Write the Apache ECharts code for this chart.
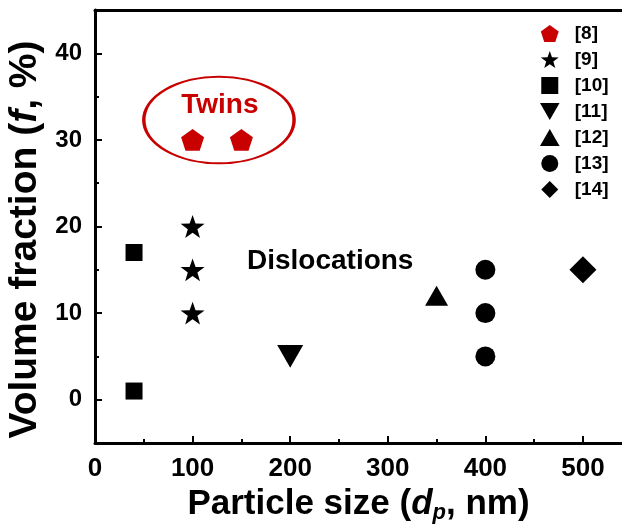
<!DOCTYPE html>
<html>
<head>
<meta charset="utf-8">
<script src="https://cdn.jsdelivr.net/npm/echarts@6/dist/echarts.min.js"></script>
<style>
  html, body { margin: 0; padding: 0; background: #fff; }
  #chart { width: 622px; height: 526px; }
</style>
</head>
<body>
<div id="chart"></div>
<script>
// data points [particle size nm, volume fraction %]
const ref8 = [[100, 30], [150, 30]]
const ref9 = [[100, 20], [100, 15], [100, 10]]
const ref10 = [[40, 17], [40, 1]]
const ref11 = [[200, 5]]
const ref12 = [[350, 12]]
const ref13 = [[400, 15], [400, 10], [400, 5]]
const ref14 = [[500, 15]]

const xMinorTicks = [50, 150, 250, 350, 450]
const yTicks = [0, 10, 20, 30, 40]

const FONT = '"Liberation Sans", Arial, sans-serif'
const RED = '#c80000'

// symbols
const PENTAGON = 'path://M50 0L97.6 34.5L79.4 90.5L20.6 90.5L2.4 34.5Z'
const STAR = 'path://M50 0L61.8 33.8L97.6 34.5L69 56.2L79.4 90.5L50 70L20.6 90.5L31 56.2L2.4 34.5L38.2 33.8Z'
const SQUARE = 'path://M0 0H100V100H0Z'
const TRI_DOWN = 'path://M0 0L100 0L50 87Z'
const TRI_UP = 'path://M50 0L100 87L0 87Z'
const DIAMOND = 'path://M50 0L100 50L50 100L0 50Z'

const chart = echarts.init(document.getElementById('chart'))

function sc(name, data, symbol, size, color) {
  return {
    name: name,
    type: 'scatter',
    data: data,
    symbol: symbol,
    symbolSize: size,
    symbolKeepAspect: true,
    itemStyle: { color: color || '#000', opacity: 1 },
    emphasis: { disabled: true }
  }
}

const lineOn = { show: true, onZero: false, lineStyle: { color: '#000', width: 3 } }
const tickLine = { width: 2, color: '#000' }

chart.setOption({
  animation: false,
  grid: { left: 95, right: 0, top: 10, bottom: 83, outerBoundsMode: 'none' },
  legend: {
    orient: 'vertical',
    left: 535,
    top: 19,
    itemWidth: 40,
    itemHeight: 17,
    itemGap: 7,
    symbolKeepAspect: true,
    selectedMode: false,
    textStyle: { fontFamily: FONT, fontWeight: 'bold', fontSize: 19, color: '#000' },
    data: ['[8]', '[9]', '[10]', '[11]', '[12]', '[13]', '[14]']
  },
  xAxis: [{
    type: 'value',
    min: 0,
    max: 540,
    interval: 100,
    position: 'bottom',
    axisLine: lineOn,
    splitLine: { show: false },
    axisTick: { show: true, inside: true, length: 7, lineStyle: tickLine },
    axisLabel: { showMaxLabel: false, margin: 13, color: '#000', fontFamily: FONT, fontWeight: 'bold', fontSize: 26 },
    name: 'Particle size ({i|d}{sub|p}, nm)',
    nameLocation: 'middle',
    nameGap: 38,
    nameTextStyle: {
      fontFamily: FONT, fontWeight: 'bold', fontSize: 35, color: '#000',
      rich: {
        i: { fontFamily: FONT, fontWeight: 'bold', fontStyle: 'italic', fontSize: 35 },
        sub: { fontFamily: FONT, fontWeight: 'bold', fontStyle: 'italic', fontSize: 22, padding: [18, 0, 0, 0] }
      }
    }
  }, {
    // minor ticks only
    type: 'value',
    min: 0,
    max: 540,
    position: 'bottom',
    axisLine: { show: false, onZero: false },
    splitLine: { show: false },
    axisTick: { show: true, inside: true, length: 4, customValues: xMinorTicks, lineStyle: tickLine },
    axisLabel: { show: false }
  }, {
    // top frame line
    type: 'value',
    min: 0,
    max: 540,
    position: 'top',
    axisLine: lineOn,
    splitLine: { show: false },
    axisTick: { show: false },
    axisLabel: { show: false }
  }],
  yAxis: [{
    // ticks counted from min (-5, 5, ...) are the short ones, minor ticks land on 0, 10, ...
    type: 'value',
    min: -5,
    max: 45,
    interval: 10,
    position: 'left',
    axisLine: lineOn,
    splitLine: { show: false },
    axisTick: { show: true, inside: true, length: 4, lineStyle: tickLine },
    minorTick: { show: true, splitNumber: 2, length: 7, lineStyle: tickLine },
    minorSplitLine: { show: false },
    axisLabel: { customValues: yTicks, margin: 13, color: '#000', fontFamily: FONT, fontWeight: 'bold', fontSize: 24 },
    name: 'Volume fraction ({i|f}, %)',
    nameLocation: 'middle',
    nameGap: 47,
    nameTextStyle: {
      fontFamily: FONT, fontWeight: 'bold', fontSize: 39, color: '#000',
      padding: [0, 26, 0, 0],
      rich: {
        i: { fontFamily: FONT, fontWeight: 'bold', fontStyle: 'italic', fontSize: 39 }
      }
    }
  }],
  series: [
    sc('[8]', ref8, PENTAGON, 23, RED),
    sc('[9]', ref9, STAR, 24),
    sc('[10]', ref10, SQUARE, 17),
    sc('[11]', ref11, TRI_DOWN, 26),
    sc('[12]', ref12, TRI_UP, 23),
    sc('[13]', ref13, 'circle', 20),
    sc('[14]', ref14, DIAMOND, 27)
  ]
})

// annotations (ellipse around twins, region labels)
const toPx = p => chart.convertToPixel({ xAxisIndex: 0, yAxisIndex: 0 }, p)
const ellC = toPx([127, 32.3])
const ellR = toPx([127 + 77, 32.3 + 5])
const rx = ellR[0] - ellC[0]
const ry = ellC[1] - ellR[1]
const twinsPos = toPx([128, 34])
const dislPos = toPx([241, 16])

chart.setOption({
  graphic: [{
    type: 'circle',
    x: ellC[0],
    y: ellC[1],
    scaleX: rx / ry,
    shape: { cx: 0, cy: 0, r: ry },
    style: { fill: 'none', stroke: RED, lineWidth: 2, strokeNoScale: true },
    silent: true
  }, {
    type: 'text',
    x: twinsPos[0],
    y: twinsPos[1],
    style: { text: 'Twins', fill: RED, font: 'bold 28px ' + FONT, align: 'center', verticalAlign: 'middle' },
    silent: true
  }, {
    type: 'text',
    x: dislPos[0],
    y: dislPos[1],
    style: { text: 'Dislocations', fill: '#000', font: 'bold 28px ' + FONT, align: 'center', verticalAlign: 'middle' },
    silent: true
  }]
})
</script>
</body>
</html>
